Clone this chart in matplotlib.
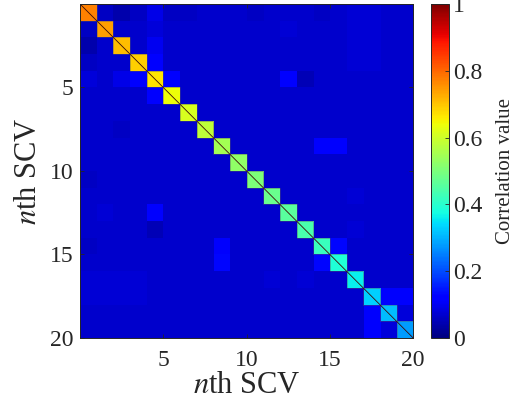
import numpy as np
import matplotlib
matplotlib.use('Agg')
from matplotlib import pyplot as plt
from matplotlib.patches import Rectangle

# Times-like fonts, MATLAB look
plt.rcParams['font.family'] = ['Liberation Serif', 'DejaVu Serif']
plt.rcParams['mathtext.fontset'] = 'stix'

# correlation matrix between the 20 SCVs
corr = [
    [.77, .06, .04, .06, .09, .06, .06, .07, .07, .07, .06, .07, .07, .07, .06, .07, .075, .075, .07, .07],
    [.06, .74, .07, .07, .08, .07, .07, .07, .07, .07, .07, .07, .075, .07, .07, .07, .075, .075, .07, .07],
    [.04, .07, .71, .07, .10, .07, .07, .07, .07, .07, .07, .07, .07, .07, .07, .07, .075, .075, .07, .07],
    [.06, .07, .07, .69, .12, .07, .07, .07, .07, .07, .07, .07, .07, .07, .07, .07, .075, .075, .07, .07],
    [.08, .07, .09, .12, .665, .12, .07, .07, .07, .07, .07, .07, .12, .05, .07, .07, .07, .07, .07, .07],
    [.07, .07, .07, .07, .12, .64, .07, .07, .07, .07, .07, .07, .07, .07, .07, .07, .07, .07, .07, .07],
    [.07, .07, .07, .07, .07, .07, .61, .07, .07, .07, .07, .07, .07, .07, .07, .07, .07, .07, .07, .07],
    [.07, .07, .06, .07, .07, .07, .07, .58, .07, .07, .07, .07, .07, .07, .07, .07, .07, .07, .07, .07],
    [.07, .07, .07, .07, .07, .07, .07, .07, .55, .07, .07, .07, .07, .07, .12, .12, .07, .07, .07, .07],
    [.07, .07, .07, .07, .07, .07, .07, .07, .07, .525, .07, .07, .07, .07, .07, .07, .07, .07, .07, .07],
    [.06, .07, .07, .07, .07, .07, .07, .07, .07, .07, .50, .07, .07, .07, .07, .07, .07, .07, .07, .07],
    [.07, .07, .07, .07, .07, .07, .07, .07, .07, .07, .07, .48, .07, .07, .07, .07, .075, .07, .07, .07],
    [.07, .075, .07, .07, .12, .07, .07, .07, .07, .07, .07, .07, .46, .07, .07, .07, .07, .07, .07, .07],
    [.07, .07, .07, .07, .05, .07, .07, .07, .07, .07, .07, .07, .07, .44, .07, .07, .075, .07, .07, .07],
    [.06, .07, .07, .07, .07, .07, .07, .07, .11, .07, .07, .07, .07, .07, .42, .13, .07, .07, .07, .07],
    [.07, .07, .07, .07, .07, .07, .07, .07, .13, .07, .07, .07, .07, .07, .13, .39, .07, .07, .07, .07],
    [.075, .075, .075, .075, .07, .07, .07, .07, .07, .07, .07, .075, .07, .075, .07, .07, .36, .07, .07, .07],
    [.075, .075, .075, .075, .07, .07, .07, .07, .07, .07, .07, .07, .07, .07, .07, .07, .07, .33, .11, .11],
    [.07, .07, .07, .07, .07, .07, .07, .07, .07, .07, .07, .07, .07, .07, .07, .07, .07, .11, .31, .08],
    [.07, .07, .07, .07, .07, .07, .07, .07, .07, .07, .07, .07, .07, .07, .07, .07, .07, .11, .08, .28],
]
ticks = [5, 10, 15, 20]
cbar_ticks = [0, 0.2, 0.4, 0.6, 0.8, 1]

corr = np.array(corr)
n = corr.shape[0]
txt = '#262626'

fig = plt.figure(figsize=(5.23, 4.08), dpi=100)
ax = fig.add_axes([0.153, 0.1716, 0.637, 0.8186])
cax = fig.add_axes([0.824, 0.1716, 0.0344, 0.8186])

im = ax.imshow(corr, cmap='jet', vmin=0, vmax=1, extent=(0, n, n, 0),
               aspect='auto', interpolation='nearest')
# faint outline round the diagonal cells, and the thin diagonal line
for i in range(n):
    ax.add_patch(Rectangle((i, i), 1, 1, fill=False, edgecolor='#555566',
                           lw=0.6, alpha=0.5))
ax.plot([0, n], [0, n], color='#3a0a0a', lw=0.6)
ax.set_xlim(0, n)
ax.set_ylim(n, 0)

ax.set_xticks(ticks)
ax.set_yticks(ticks)
ax.tick_params(direction='in', length=3, width=0.6, colors=txt, labelsize=17,
               top=True, right=True)
ax.tick_params(axis='x', pad=9)
ax.tick_params(axis='y', pad=5)
for s in ax.spines.values():
    s.set_color(txt)
    s.set_linewidth(0.7)
ax.set_xlabel(r'$n$th SCV', fontsize=22, color=txt, labelpad=0)
ax.set_ylabel(r'$n$th SCV', fontsize=22, color=txt, labelpad=5)

cb = fig.colorbar(im, cax=cax, ticks=cbar_ticks)
cb.ax.set_yticklabels(['0', '0.2', '0.4', '0.6', '0.8', '1'])
cb.ax.tick_params(direction='in', length=3, width=0.6, colors=txt, labelsize=17, pad=3)
cb.outline.set_edgecolor(txt)
cb.outline.set_linewidth(0.7)
cb.set_label('Correlation value', fontsize=15, color=txt, labelpad=10)

fig.savefig('out.png', dpi=100)
